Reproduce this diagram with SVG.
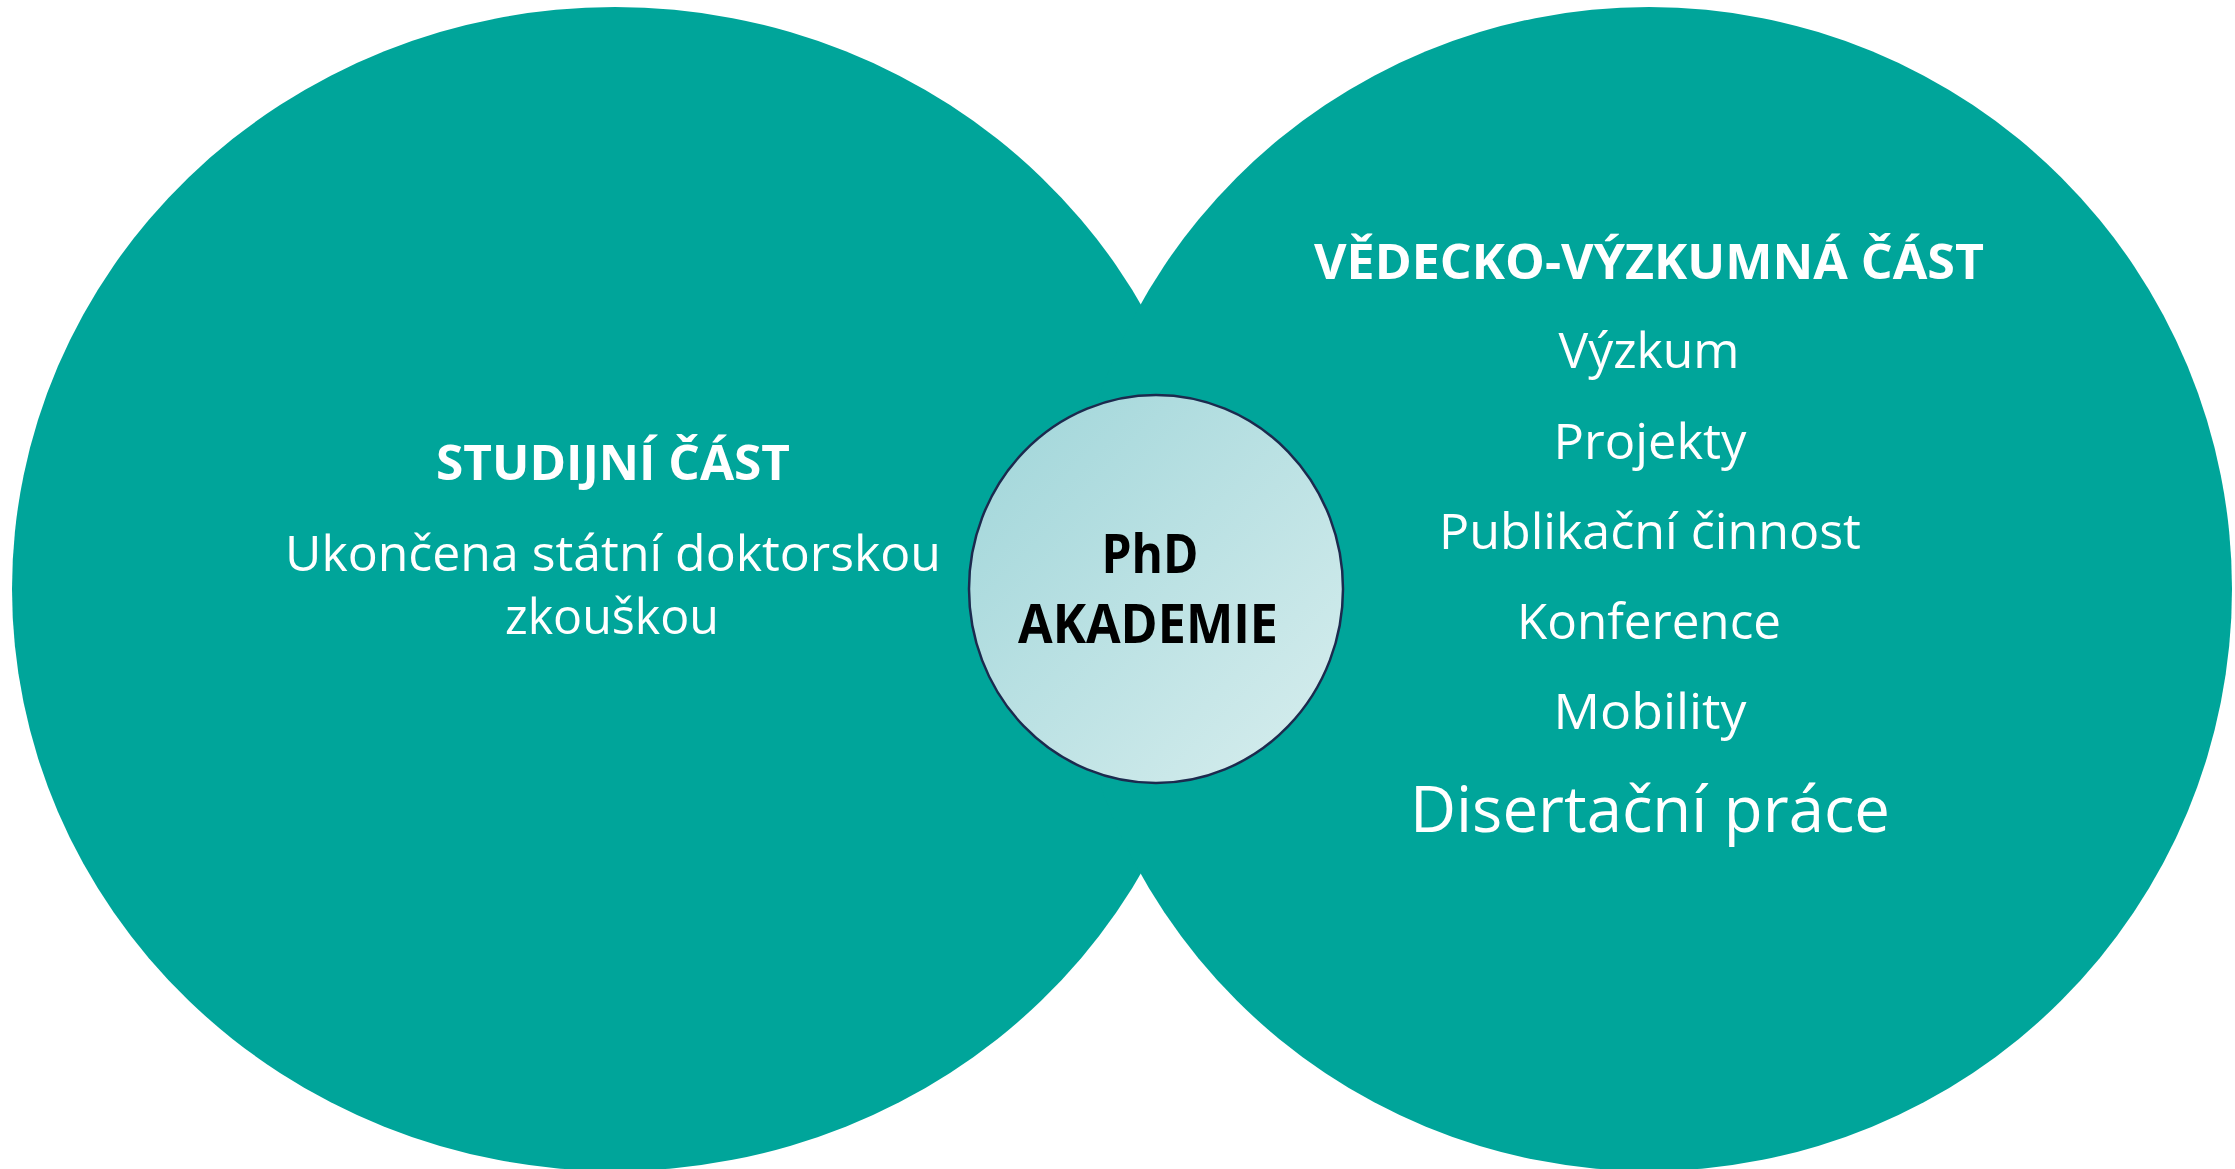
<svg xmlns="http://www.w3.org/2000/svg" width="2235" height="1169" viewBox="0 0 2235 1169">
<defs>
<linearGradient id="g" x1="0" y1="0" x2="1" y2="1">
<stop offset="0" stop-color="#9fd5d9"/>
<stop offset="1" stop-color="#d8eeee"/>
</linearGradient>
<style>
.t{font-family:"Open Sans","Noto Sans","Liberation Sans",sans-serif;fill:#ffffff;text-anchor:middle}
.b{font-weight:700;font-size:48px}
.r{font-weight:400;font-size:50px}
.c{font-family:"Open Sans","Noto Sans","Liberation Sans",sans-serif;fill:#000000;font-weight:700;font-size:53px;text-anchor:middle}
.big{fill:#00a59a}
</style>
</defs>
<rect width="2235" height="1169" fill="#ffffff"/>
<g id="left">
<ellipse class="big" cx="615" cy="589" rx="603" ry="582"/>
</g>
<g id="right">
<ellipse class="big" cx="1649" cy="589" rx="583" ry="582"/>
</g>
<g id="left-text">
<text class="t b" x="613" y="480" textLength="354" lengthAdjust="spacingAndGlyphs">STUDIJNÍ ČÁST</text>
<text class="t r" x="613" y="571" textLength="656" lengthAdjust="spacingAndGlyphs">Ukončena státní doktorskou</text>
<text class="t r" x="612" y="634" textLength="214" lengthAdjust="spacingAndGlyphs">zkouškou</text>
</g>
<g id="right-text">
<text class="t b" x="1649" y="279" textLength="670" lengthAdjust="spacingAndGlyphs">VĚDECKO-VÝZKUMNÁ ČÁST</text>
<text class="t r" x="1649" y="368" textLength="181" lengthAdjust="spacingAndGlyphs">Výzkum</text>
<text class="t r" x="1650" y="459" textLength="193" lengthAdjust="spacingAndGlyphs">Projekty</text>
<text class="t r" x="1650" y="549" textLength="422" lengthAdjust="spacingAndGlyphs">Publikační činnost</text>
<text class="t r" x="1649" y="639" textLength="264" lengthAdjust="spacingAndGlyphs">Konference</text>
<text class="t r" x="1650" y="729" textLength="193" lengthAdjust="spacingAndGlyphs">Mobility</text>
<text class="t r" x="1650" y="832" font-size="64" textLength="480" lengthAdjust="spacingAndGlyphs" style="font-size:64px">Disertační práce</text>
</g>
<g id="center">
<ellipse cx="1156" cy="589" rx="187" ry="194" fill="url(#g)" stroke="#1c2a4e" stroke-width="2.5"/>
<text class="c" x="1150" y="573" textLength="97" lengthAdjust="spacingAndGlyphs">PhD</text>
<text class="c" x="1148" y="643" textLength="260" lengthAdjust="spacingAndGlyphs">AKADEMIE</text>
</g>
<g id="connectors"/>
</svg>
